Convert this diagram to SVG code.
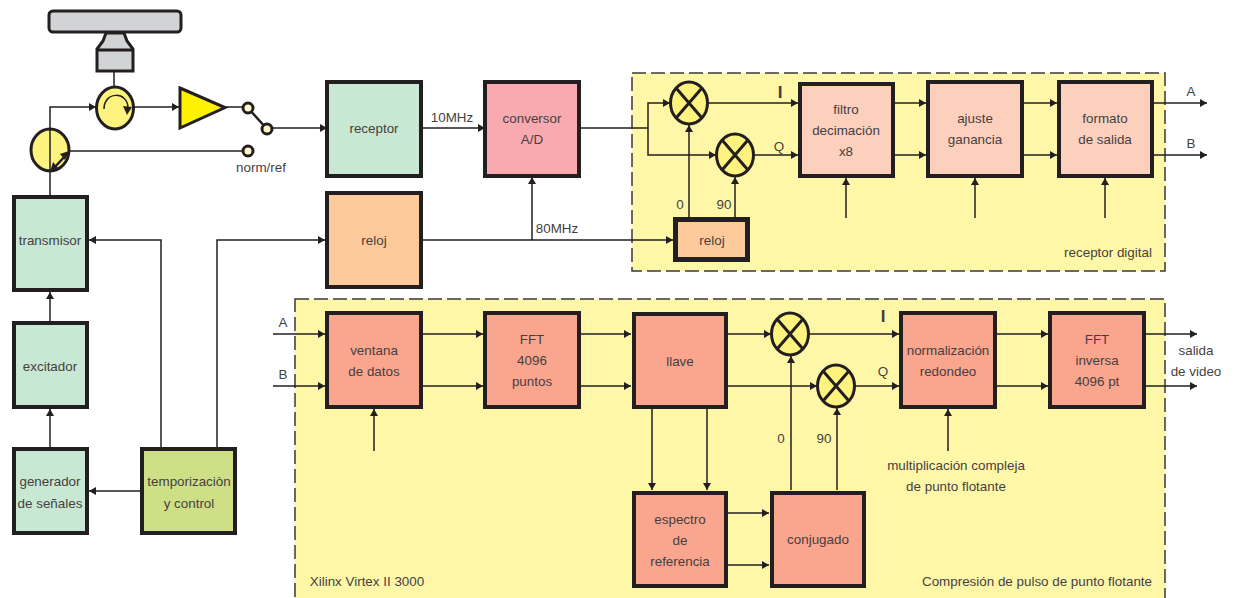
<svg xmlns="http://www.w3.org/2000/svg" width="1234" height="598" viewBox="0 0 1234 598">
<defs>
<marker id="a" markerUnits="userSpaceOnUse" markerWidth="8" markerHeight="9" refX="7" refY="4" orient="auto"><path d="M0 0L7 4L0 8Z" fill="#231f20"/></marker>
<g id="mix"><ellipse rx="18.500" ry="21" fill="#fff37f" stroke="#231f20" stroke-width="3"/><path d="M-12.500 -14.500L12.500 14.500M12.500 -14.500L-12.500 14.500" fill="none" stroke="#231f20" stroke-width="3"/></g>
</defs>
<style>
text{font-family:"Liberation Sans",Arial,sans-serif;font-size:13.400px;fill:#453f40;text-anchor:middle}
.c{fill:none;stroke:#231f20;stroke-width:1.500}
.ar{marker-end:url(#a)}
.b{stroke:#231f20;stroke-width:4}
.g{fill:#c9e8d3}.s{fill:#fdd0be}.r{fill:#faa58e}.o{fill:#fdcb9b}
.t{stroke:#231f20;stroke-width:3;fill:#fff7c8}
.big{font-size:17px;font-weight:bold}
</style>
<rect x="632" y="73" width="533" height="198" fill="#fff7a8" stroke="#3a3a3a" stroke-width="1.500" stroke-dasharray="14 5"/>
<rect x="295" y="299" width="870" height="305" fill="#fff7a8" stroke="#3a3a3a" stroke-width="1.500" stroke-dasharray="14 5"/>
<g id="connectors">
<path class="c" d="M114 72V88"/>
<path class="c ar" d="M50 197V107H96"/>
<path class="c ar" d="M134 107H179"/>
<path class="c" d="M226 107H244"/>
<path class="c ar" d="M272 128H327"/>
<path class="c" d="M69 151H244"/>
<path class="c ar" d="M421 128H485"/>
<path class="c" d="M579 128H648"/>
<path class="c ar" d="M648 128V103H670"/>
<path class="c ar" d="M648 128V155H716"/>
<path class="c ar" d="M708 103H798"/>
<path class="c ar" d="M754 155H798"/>
<path class="c ar" d="M689 217V125"/>
<path class="c ar" d="M735 217V177"/>
<path class="c ar" d="M421 240H673"/>
<path class="c ar" d="M532 240V177"/>
<path class="c ar" d="M846 218V178"/>
<path class="c ar" d="M975 218V178"/>
<path class="c ar" d="M1105 218V178"/>
<path class="c ar" d="M895 103H926"/>
<path class="c ar" d="M895 155H926"/>
<path class="c ar" d="M1024 103H1057"/>
<path class="c ar" d="M1024 155H1057"/>
<path class="c ar" d="M1154 103H1207"/>
<path class="c ar" d="M1154 155H1207"/>
<path class="c ar" d="M161 447V240H89"/>
<path class="c ar" d="M217 447V240H325"/>
<path class="c ar" d="M140 491H89"/>
<path class="c ar" d="M50 447V409"/>
<path class="c ar" d="M50 321V292"/>
<path class="c ar" d="M273 334H325"/>
<path class="c ar" d="M273 386H325"/>
<path class="c ar" d="M374 451V409"/>
<path class="c ar" d="M423 334H483"/>
<path class="c ar" d="M423 386H483"/>
<path class="c ar" d="M581 334H631"/>
<path class="c ar" d="M581 386H631"/>
<path class="c ar" d="M728 334H771"/>
<path class="c ar" d="M728 386H817"/>
<path class="c ar" d="M809 334H899"/>
<path class="c ar" d="M855 386H899"/>
<path class="c ar" d="M652 409V490"/>
<path class="c ar" d="M707 409V490"/>
<path class="c ar" d="M728 513H769"/>
<path class="c ar" d="M728 565H769"/>
<path class="c ar" d="M791 490V356"/>
<path class="c ar" d="M837 490V408"/>
<path class="c ar" d="M948 451V409"/>
<path class="c ar" d="M997 334H1048"/>
<path class="c ar" d="M997 386H1048"/>
<path class="c ar" d="M1146 334H1197"/>
<path class="c ar" d="M1146 386H1197"/>
</g>
<g id="antena"><rect x="49" y="11" width="132" height="21" rx="4" fill="#d1d3d4" stroke="#231f20" stroke-width="3"/><path d="M106 33L103 41L97 49V71H133V49L127 41L124 33Z" fill="#d1d3d4" stroke="#231f20" stroke-width="3"/><path d="M97 50H133" stroke="#231f20" stroke-width="3"/></g>
<g id="circulador"><ellipse cx="115" cy="108" rx="18.500" ry="21" fill="#fff37f" stroke="#231f20" stroke-width="3"/><path d="M104 109C104 91 128 91 128 108" fill="none" stroke="#231f20" stroke-width="1.500"/><path d="M123 106L132 107L127 115Z" fill="#231f20"/></g>
<g id="duplexor"><ellipse cx="50" cy="150" rx="19" ry="21" fill="#fff37f" stroke="#231f20" stroke-width="3"/><path d="M50 128V172" class="c"/><path d="M54 168L67 154" fill="none" stroke="#231f20" stroke-width="2.500"/><path d="M50 172L53 162L58 168ZM69 151L60 154L65 160Z" fill="#231f20"/></g>
<g id="amplificador"><path d="M180 88L225 107.500L180 128Z" fill="#fff200" stroke="#231f20" stroke-width="3"/></g>
<g id="conmutador"><path d="M248 108L267 129" fill="none" stroke="#231f20" stroke-width="2.500"/><circle cx="248" cy="108" r="5" class="t"/><circle cx="267" cy="129" r="5" class="t"/><circle cx="248" cy="151" r="5" class="t"/><text x="261" y="172">norm/ref</text></g>
<g id="transmisor"><rect class="b g" x="14" y="197" width="73" height="93"/><text x="50" y="245">transmisor</text></g>
<g id="excitador"><rect class="b g" x="14" y="323" width="73" height="84"/><text x="50" y="371">excitador</text></g>
<g id="generador"><rect class="b g" x="14" y="449" width="73" height="84"/><text x="50" y="486">generador</text><text x="50" y="508">de señales</text></g>
<g id="temporizacion"><rect class="b" fill="#cfdf85" x="142" y="449" width="93" height="84"/><text x="189" y="486">temporizaciòn</text><text x="189" y="508">y control</text></g>
<g id="receptor"><rect class="b g" x="327" y="82" width="94" height="94"/><text x="374" y="133">receptor</text></g>
<g id="reloj1"><rect class="b o" x="327" y="193" width="94" height="94"/><text x="374" y="245">reloj</text></g>
<g id="conversor"><rect class="b" fill="#f9a9b0" x="485" y="82" width="94" height="94"/><text x="532" y="123">conversor</text><text x="532" y="144">A/D</text></g>
<g id="mezcla1"><use href="#mix" x="689" y="103"/></g>
<g id="mezcla2"><use href="#mix" x="735" y="155"/></g>
<g id="reloj2"><rect class="o" stroke="#231f20" stroke-width="5" x="675.500" y="219.500" width="72" height="40"/><text x="712" y="245">reloj</text></g>
<g id="filtro"><rect class="b s" x="800" y="84" width="93" height="92"/><text x="846" y="114">filtro</text><text x="846" y="135">decimación</text><text x="846" y="156">x8</text></g>
<g id="ajuste"><rect class="b s" x="928" y="82" width="94" height="94"/><text x="975" y="123">ajuste</text><text x="975" y="144">ganancia</text></g>
<g id="formato"><rect class="b s" x="1059" y="82" width="93" height="94"/><text x="1105" y="123">formato</text><text x="1105" y="144">de salida</text></g>
<g id="ventana"><rect class="b r" x="327" y="313" width="94" height="94"/><text x="374" y="355">ventana</text><text x="374" y="376">de datos</text></g>
<g id="fft"><rect class="b r" x="485" y="313" width="94" height="94"/><text x="532" y="344">FFT</text><text x="532" y="365">4096</text><text x="532" y="386">puntos</text></g>
<g id="llave"><rect class="b r" x="634" y="314" width="92" height="93"/><text x="680" y="366">llave</text></g>
<g id="mezcla3"><use href="#mix" x="790" y="334"/></g>
<g id="mezcla4"><use href="#mix" x="836" y="386"/></g>
<g id="normalizacion"><rect class="b r" x="901" y="313" width="94" height="94"/><text x="948" y="355">normalización</text><text x="948" y="376">redondeo</text></g>
<g id="fftinv"><rect class="b r" x="1050" y="313" width="94" height="94"/><text x="1097" y="344">FFT</text><text x="1097" y="365">inversa</text><text x="1097" y="386">4096 pt</text></g>
<g id="espectro"><rect class="b r" x="634" y="493" width="92" height="93"/><text x="680" y="524">espectro</text><text x="680" y="545">de</text><text x="680" y="566">referencia</text></g>
<g id="conjugado"><rect class="b r" x="772" y="493" width="92" height="93"/><text x="818" y="544">conjugado</text></g>
<g id="etiquetas">
<text x="452" y="122">10MHz</text><text x="557" y="233">80MHz</text>
<text x="680" y="209">0</text><text x="724" y="209">90</text>
<text class="big" x="780" y="98">I</text><text x="779" y="151">Q</text>
<text x="1191" y="96">A</text><text x="1191" y="148">B</text>
<text x="1108" y="257">receptor digital</text>
<text x="283" y="327">A</text><text x="283" y="379">B</text>
<text class="big" x="883" y="322">I</text><text x="883" y="376">Q</text>
<text x="781" y="443">0</text><text x="824" y="443">90</text>
<text x="956" y="470">multiplicación compleja</text><text x="956" y="491">de punto flotante</text>
<text x="1196" y="355">salida</text><text x="1196" y="376">de video</text>
<text x="367" y="586">Xilinx Virtex II 3000</text>
<text x="1037" y="586">Compresión de pulso de punto flotante</text>
</g>
</svg>
